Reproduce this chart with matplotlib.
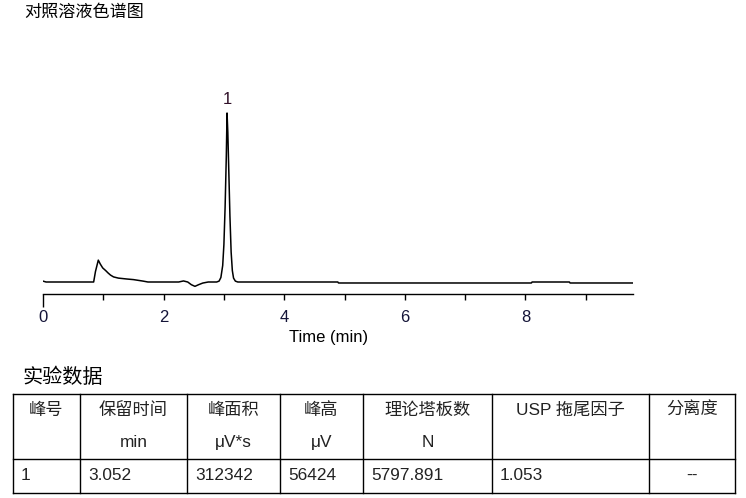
import matplotlib
matplotlib.use("Agg")
import matplotlib.pyplot as plt

plt.rcParams['font.family'] = ['Liberation Sans', 'Noto Sans CJK SC', 'DejaVu Sans']

# chromatogram trace (time in min, signal in uV)
time_min = [0.00, 0.05, 0.84, 0.87, 0.917, 0.95, 0.99, 1.04, 1.08, 1.12, 1.17, 1.25,
            1.39, 1.50, 1.58, 1.66, 1.74, 2.25, 2.33, 2.40, 2.46, 2.52, 2.58, 2.65,
            2.74, 2.88, 2.92, 2.95, 2.98, 3.00, 3.02, 3.04, 3.052, 3.065, 3.08,
            3.10, 3.12, 3.14, 3.16, 3.19, 3.23, 4.89, 4.90, 8.10, 8.11, 8.73, 8.74, 9.78]
signal_uv = [300, 0, 0, 3500, 7300, 6000, 4700, 3800, 3000, 2300, 1700, 1300,
             1000, 800, 550, 300, 0, 0, 350, 0, -900, -1450, -900, -350,
             0, 0, 300, 1500, 5500, 12500, 25000, 42000, 56424, 50000, 38000,
             22000, 10000, 3800, 1300, 300, 0, 0, -330, -330, 0, 0, -330, -330]

peak_labels = ['1']
peak_times = [3.052]
peak_heights = [56424]

x_ticks = [0, 2, 4, 6, 8]
x_minor = [1, 3, 5, 7, 9]

table_header = ['峰号', '保留时间', '峰面积', '峰高', '理论塔板数', 'USP 拖尾因子', '分离度']
table_units = ['', 'min', 'μV*s', 'μV', 'N', '', '']
table_row = ['1', '3.052', '312342', '56424', '5797.891', '1.053', '--']

W, H = 746, 498
fig = plt.figure(figsize=(W / 100, H / 100), dpi=100)

# chart area in pixel terms
left, right, top, bottom = 43, 633, 60, 294
ax = fig.add_axes([left / W, 1 - bottom / H, (right - left) / W, (bottom - top) / H])
uv_per_px = 56424 / 169.0
ax.set_xlim(0, (right - left) / 60.3)
ax.set_ylim(-(bottom - 282) * uv_per_px, (282 - top) * uv_per_px)

ax.plot(time_min, signal_uv, color='black', lw=1.1)
for lab, t, h in zip(peak_labels, peak_times, peak_heights):
    ax.annotate(lab, (t, h), xytext=(0, 4), textcoords='offset points',
                ha='center', va='bottom', fontsize=12, color='#301028')

for s in ['left', 'top', 'right']:
    ax.spines[s].set_visible(False)
ax.spines['bottom'].set_linewidth(1.0)
ax.set_yticks([])
ax.set_xticks(x_ticks)
ax.set_xticks(x_minor, minor=True)
ax.tick_params(axis='x', which='both', length=4.5, width=1.0, direction='out',
               labelsize=12, labelcolor='#141438', pad=7)
ax.tick_params(axis='x', which='minor', labelbottom=False)
ax.xaxis.get_major_ticks()[0].tick1line.set_markersize(9)
ax.patch.set_alpha(0)

# overlay for titles and the table, in pixel coordinates
ov = fig.add_axes([0, 0, 1, 1])
ov.set_xlim(0, W)
ov.set_ylim(H, 0)
ov.axis('off')
ov.patch.set_alpha(0)

ov.text(329, 337, 'Time (min)', fontsize=12, ha='center', va='center')
ov.text(24, 12, '对照溶液色谱图', fontsize=12.3, va='center', ha='left',
        family=['Noto Sans CJK SC'], fontweight='medium')
ov.text(23, 377, '实验数据', fontsize=14.5, va='center', ha='left',
        family=['Noto Sans CJK SC'])

col_x = [13, 80, 187, 280, 363, 492, 649, 735]
row_y = [394, 459, 493]
for x in col_x:
    ov.plot([x, x], [row_y[0], row_y[-1]], color='black', lw=1.0)
for y in row_y:
    ov.plot([col_x[0], col_x[-1]], [y, y], color='black', lw=1.0)

fs = 12.4
for i in range(len(table_header)):
    cx = (col_x[i] + col_x[i + 1]) / 2
    ov.text(cx, 415, table_header[i], fontsize=fs, ha='center', va='baseline',
            color='#222222')
    if table_units[i]:
        ov.text(cx, 447, table_units[i], fontsize=fs, ha='center', va='baseline',
                color='#222222')
    if table_row[i] == '--':
        ov.text(cx, 480, table_row[i], fontsize=fs, ha='center', va='baseline',
                color='#222222')
    else:
        ov.text(col_x[i] + 8, 480, table_row[i], fontsize=fs, ha='left',
                va='baseline', color='#222222')

fig.savefig('out.png', dpi=100)
